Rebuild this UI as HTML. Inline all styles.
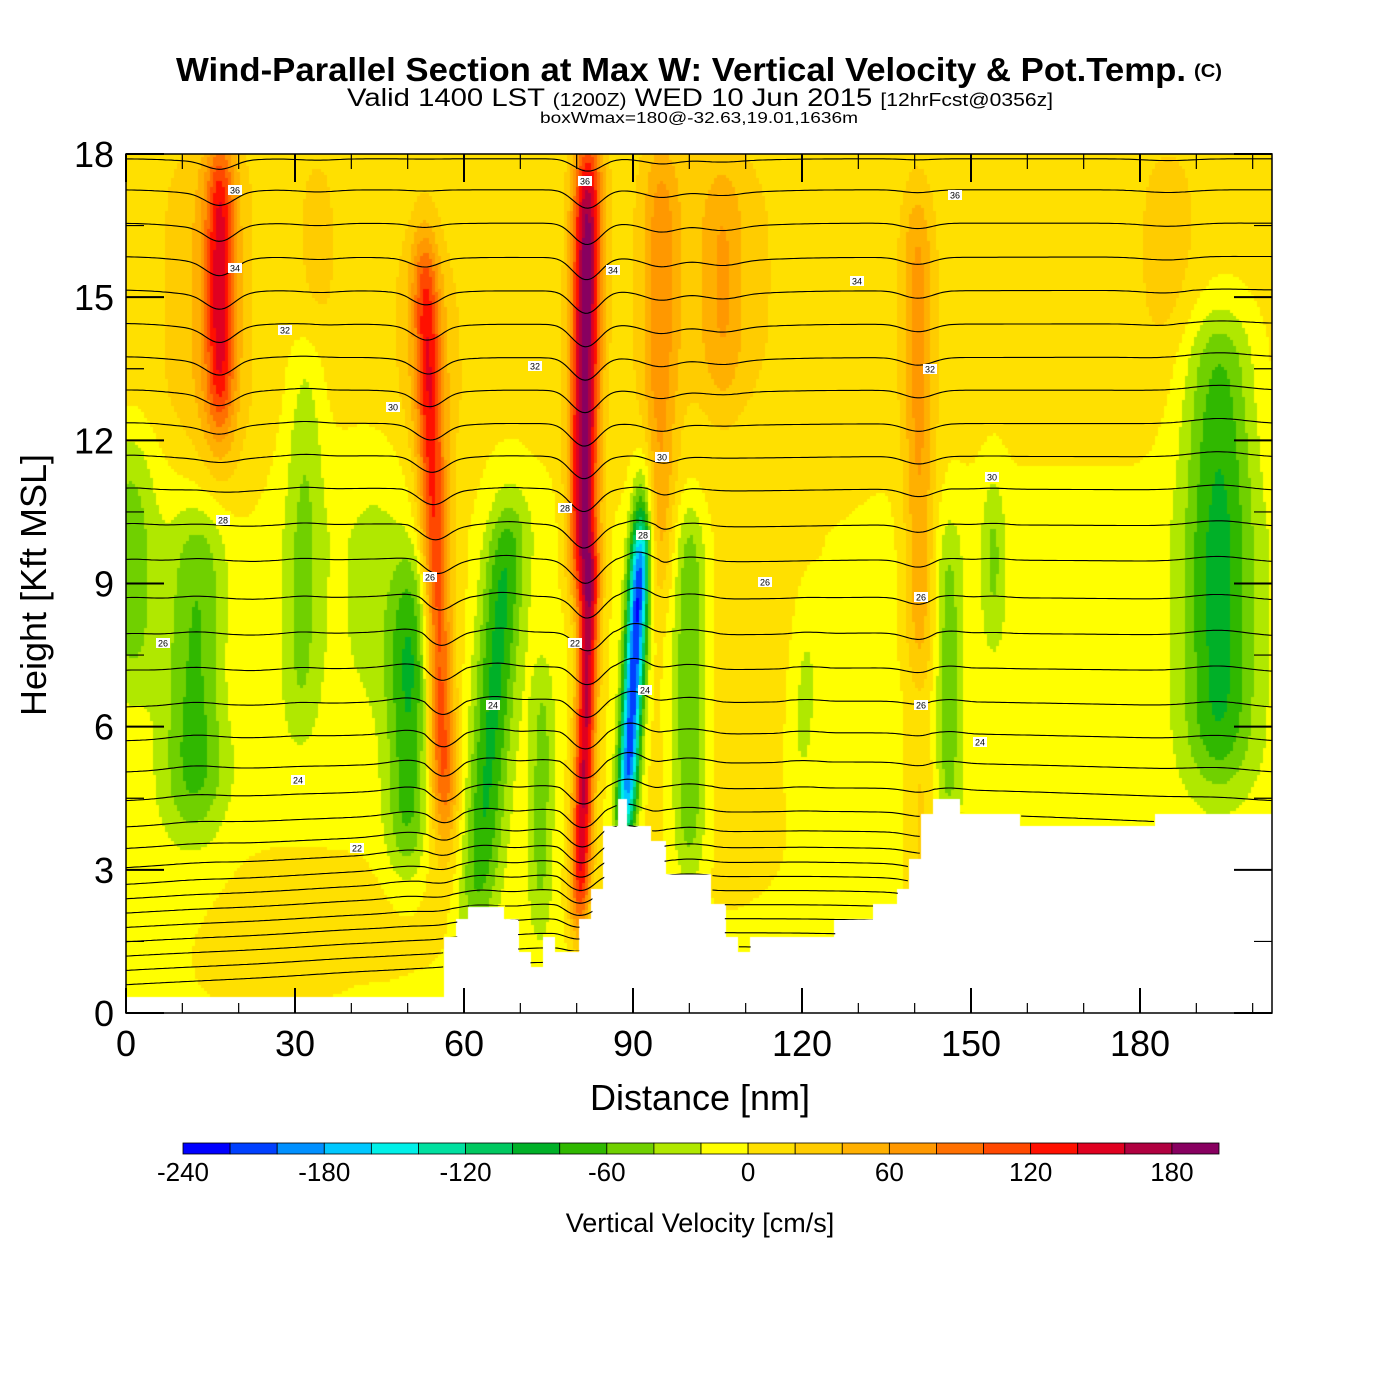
<!DOCTYPE html>
<html><head><meta charset="utf-8"><style>
html,body{margin:0;padding:0;background:#fff}
#wrap{position:relative;width:1400px;height:1400px;overflow:hidden}
canvas{position:absolute;left:0;top:0}
svg{position:absolute;left:0;top:0}
text{font-family:"Liberation Sans",sans-serif}
</style></head><body>
<div id="wrap">
<canvas id="cv" width="1400" height="1400"></canvas>
<svg id="sv" width="1400" height="1400">
<text x="176" y="81" font-size="33" font-weight="bold" textLength="1010" lengthAdjust="spacingAndGlyphs">Wind-Parallel Section at Max W: Vertical Velocity &amp; Pot.Temp.</text>
<text x="1194" y="77" font-size="18" font-weight="bold" textLength="28" lengthAdjust="spacingAndGlyphs">(C)</text>
<text x="347" y="106" font-size="25" textLength="706" lengthAdjust="spacingAndGlyphs">Valid 1400 LST <tspan font-size="18">(1200Z)</tspan> WED 10 Jun 2015 <tspan font-size="18">[12hrFcst@0356z]</tspan></text>
<text x="540" y="123" font-size="16" textLength="318" lengthAdjust="spacingAndGlyphs">boxWmax=180@-32.63,19.01,1636m</text>
<g id="plot"></g>
<text x="700" y="1110" font-size="36" text-anchor="middle">Distance [nm]</text>
<text transform="translate(46,585) rotate(-90)" font-size="36" text-anchor="middle">Height [Kft MSL]</text>
<text x="700" y="1232" font-size="27" text-anchor="middle">Vertical Velocity [cm/s]</text>
</svg>
</div>
<script>
// ---- data ----
const xTicks=[0,30,60,90,120,150,180];
const yTicks=[0,3,6,9,12,15,18];
const cbLevels=[-240,-220,-200,-180,-160,-140,-120,-100,-80,-60,-40,-20,0,20,40,60,80,100,120,140,160,180,200];
const cbLabels=[-240,-180,-120,-60,0,60,120,180];
const cbColors=["#0000ff","#0040ff","#0090ff","#00c8ff","#00f0e8","#00e0a0","#00c860","#00b028","#30b800","#70d000","#b0e800","#ffff00","#ffe000","#ffcc00","#ffb000","#ff9800","#ff7000","#ff4800","#ff1000","#e00020","#b00040","#880060"];
// vertical-velocity features: x at bottom, x at top (nm), bottom/top heights (kft), amplitude (cm/s), half-width (nm)
const fXb=[16.7,16.5,56.5,57,81,80.5,88.6,94.5,106,141,12,1,31,50,62,73.5,91,100,120,146,154,194,51,141.5,104,185,34,100,50,12,25,45];
const fXt=[16.7,17,53,53,82,82.5,91.5,95,106,140.5,14,1,32,51,68,74,92,100,121,146,154,194,51,141,104,185,34,110,50,12,30,45];
const fZb=[12.5,6,4,2.5,9,2,3.8,9,13,7,4,7,6,3,2,2,9,3,5,4,8,5,3,1,13,14,14,2,1,12,0,7];
const fZt=[18,18,16,16,18,9.5,10,18,17.5,17,10.5,12,14,9.5,10.5,7,11.5,10.5,8,10,11,14.5,8,6,18,18,18,12,6,18,3.5,12];
const fAmp=[112,25,110,25,185,165,-220,55,35,60,-70,-45,-38,-70,-80,-45,-60,-65,-30,-45,-40,-80,-18,30,22,22,18,16,14,18,16,-18];
const fW=[1.8,4,1.7,4.5,1.8,1.3,1.3,2.2,2.5,2,4,3,2.4,2.8,2.6,1.5,1.4,2.2,1.6,1.7,1.5,4.5,6,2,9,4,3,14,6,5,14,6];
// terrain: segment start distances (nm) and heights (kft)
const tX=[0,56.3,58.8,60.9,67.3,69.6,71.8,74,76.2,80.5,82.8,84.9,87.1,89.2,93.4,95.6,104.1,106.3,108.8,110.9,125.9,132.6,137.0,138.8,140.9,143.1,148.1,158.9,182.5,191.0,203.5];
const tZ=[0.35,1.6,1.95,2.25,1.95,1.3,0.95,1.6,1.3,1.95,2.6,3.9,4.5,3.9,3.6,2.9,2.3,1.6,1.3,1.6,1.95,2.3,2.6,3.2,4.2,4.5,4.2,3.9,4.2,4.2];
// theta contour base heights (kft)
const thZ=[0.6,0.9,1.2,1.5,1.8,2.1,2.4,2.7,3.05,3.45,3.9,4.45,5.05,5.7,6.4,7.15,7.9,8.65,9.45,10.2,10.95,11.65,12.35,13.05,13.75,14.45,15.15,15.85,16.55,17.25,17.9];
const thSlope=[0.25,0.25,0.25,0.25,0.25,0.25,0.25,0.25,0.23,0.2,0.18,0.15,0.12,0.1,0.08,0.05,0.04,0.04,0.03,0.02,0.02,0.01,0.0,0.0,-0.01,-0.01,-0.01,-0.01,0.0,0.0,0.0];
const lbX=[298,493,645,980,357,163,430,765,223,565,393,662,992,285,535,235,613,857,235,585,955,575,921,921,930,643];
const lbY=[780,705,690,742,848,643,577,582,520,508,407,457,477,330,366,268,270,281,190,181,195,643,597,705,369,535];
const lbT=["24","24","24","24","22","26","26","26","28","28","30","30","30","32","32","34","34","34","36","36","36","22","26","26","32","28"];

// ---- axes ----
const X0=126,X1=1272,Y0=1013,Y1=154;
const xs=d=>X0+d*(169/30);
const ys=z=>Y0-z*(Y0-Y1)/18;
const xinv=p=>(p-X0)/(169/30);
const yinv=p=>(Y0-p)/((Y0-Y1)/18);
const cbx=v=>183+(v+240)*(1036/440);

function terrain(d){for(let i=0;i<tZ.length;i++){if(d>=tX[i]&&d<tX[i+1])return tZ[i];}return tZ[tZ.length-1];}
function win(z,a,b){const s1=1/(1+Math.exp(-(z-a)/0.5));const s2=1/(1+Math.exp((z-b)/0.5));return s1*s2;}
function bgW(z){return z<10?-8:(z<13?-8+(z-10)*5.5:8.5);}
function wField(d,z){
  let w=bgW(z);
  for(let i=0;i<fXb.length;i++){
    const t=Math.min(1,Math.max(0,(z-fZb[i])/Math.max(0.1,fZt[i]-fZb[i])));
    const xc=fXb[i]+(fXt[i]-fXb[i])*t;
    const dx=(d-xc)/fW[i];
    w+=fAmp[i]*Math.exp(-dx*dx/2)*win(z,fZb[i],fZt[i]);
  }
  return w;
}
function colorOf(w){let i=Math.floor((w+240)/20);i=Math.max(0,Math.min(21,i));return cbColors[i];}

const cv=document.getElementById('cv');const ctx=cv.getContext('2d');
ctx.fillStyle='#fff';ctx.fillRect(0,0,1400,1400);
const cs=3;
for(let py=Y1;py<Y0;py+=cs){for(let px=X0;px<X1;px+=cs){
  const d=xinv(px+cs/2),z=yinv(py+cs/2);
  if(z<terrain(d))continue;
  ctx.fillStyle=colorOf(wField(d,z));ctx.fillRect(px,py,cs,cs);
}}

const NS='http://www.w3.org/2000/svg';
const plot=document.getElementById('plot');
function el(tag,attrs,parent){const e=document.createElementNS(NS,tag);for(const k in attrs)e.setAttribute(k,attrs[k]);(parent||plot).appendChild(e);return e;}

const defs=el('defs',{});
const cp=el('clipPath',{id:'tclip'},defs);
let pts=`M${X0},${Y1} L${X1},${Y1} L${X1},${ys(tZ[tZ.length-1])}`;
for(let i=tZ.length-1;i>=0;i--){pts+=` L${xs(Math.min(tX[i+1],203.5))},${ys(tZ[i])} L${xs(tX[i])},${ys(tZ[i])}`;}
pts+=' Z';
el('path',{d:pts},cp);

// theta contours
const cg=el('g',{'clip-path':'url(#tclip)',fill:'none',stroke:'#000','stroke-width':1.1});


for(let k=0;k<thZ.length;k++){
  let dstr='';
  for(let d=0;d<=204;d+=0.5){
    let z=thZ[k]+thSlope[k]*Math.sin(d/203*Math.PI)*2;
    let w=0;for(let o=-2;o<=2;o++)w+=wField(d+o,z);w=w/5-bgW(z);
    z-= w>0? w/300 : w/700;
    dstr+=(d===0?'M':'L')+xs(d).toFixed(1)+','+ys(z).toFixed(1);
  }
  const p=el('path',{d:dstr},cg);
  
  
}
for(let i=0;i<lbX.length;i++){
  const g=el('g',{});
  
  
  el('rect',{x:lbX[i]-7,y:lbY[i]-5,width:14,height:10,fill:'#fff'},g);
  const t=el('text',{x:lbX[i],y:lbY[i]+3.5,'font-size':9,'text-anchor':'middle'},g);t.textContent=lbT[i];
}

const fr=el('rect',{x:X0,y:Y1,width:X1-X0,height:Y0-Y1,fill:'none',stroke:'#000','stroke-width':1.5});


for(let d=0;d<=200;d+=10){
  const big=d%30===0;
  el('line',{x1:xs(d),x2:xs(d),y1:Y0,y2:Y0-(big?25:10),stroke:'#000','stroke-width':big?2:1.2});
  el('line',{x1:xs(d),x2:xs(d),y1:Y1,y2:Y1+(big?28:15),stroke:'#000','stroke-width':big?2:1.2});
}
for(let z=0;z<=18;z+=1.5){
  const big=z%3===0;const L=big?38:18;
  el('line',{x1:X0,x2:X0+L,y1:ys(z),y2:ys(z),stroke:'#000','stroke-width':big?2:1.2});
  el('line',{x1:X1,x2:X1-L,y1:ys(z),y2:ys(z),stroke:'#000','stroke-width':big?2:1.2});
}
xTicks.forEach(v=>{const t=el('text',{x:xs(v),y:1056,'font-size':36,'text-anchor':'middle'});t.textContent=v;
  });
yTicks.forEach(v=>{const t=el('text',{x:114,y:ys(v)+13,'font-size':36,'text-anchor':'end'});t.textContent=v;
  });

for(let i=0;i<cbColors.length;i++){
  const r=el('rect',{x:cbx(cbLevels[i]),y:1143,width:cbx(cbLevels[i+1])-cbx(cbLevels[i]),height:11,fill:cbColors[i],stroke:'#000','stroke-width':0.8});
  
  
}
cbLabels.forEach(v=>{const t=el('text',{x:cbx(v),y:1181,'font-size':26,'text-anchor':'middle'});t.textContent=v;
  });
</script>
</body></html>
